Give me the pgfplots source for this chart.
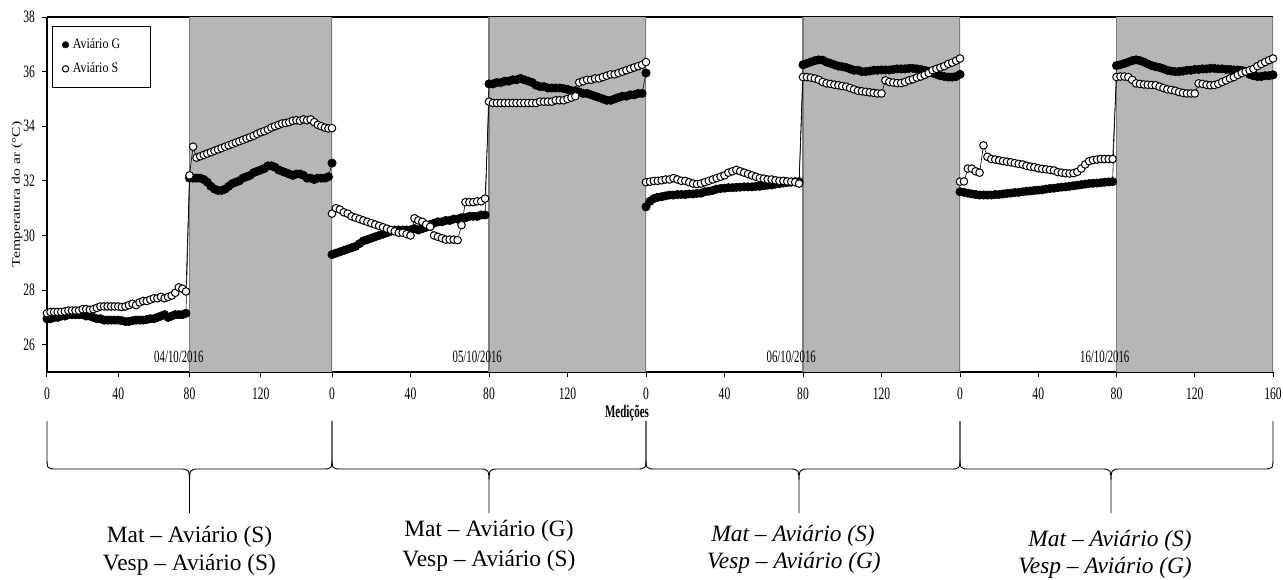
\documentclass[border=0pt]{standalone}
\usepackage{pgfplots}
\pgfplotsset{compat=1.18}
\usepackage{pgfplotstable}
\usepackage{graphicx}
\usepackage{fontspec}
\setmainfont{Liberation Serif}

\definecolor{sombra}{RGB}{180,182,183}
\definecolor{borda}{RGB}{125,125,125}

% texto esticado na vertical, como na figura original
\newcommand{\tk}[1]{\scalebox{1}[1.5]{#1}}
\newcommand{\dt}[1]{\scalebox{1}[1.6]{#1}}

% x = medição dentro do dia; g = Aviário G, s = Aviário S; 1..4 = dias
\pgfplotstableread{
x g1 s1 g2 s2 g3 s3 g4 s4
0 26.95 27.15 29.30 30.80 31.05 31.95 31.60 31.97
2 26.95 27.20 29.35 31.00 31.25 31.97 31.58 31.98
4 27.00 27.20 29.40 30.95 31.35 32.00 31.55 32.45
6 27.00 27.20 29.45 30.85 31.40 32.00 31.52 32.45
8 27.05 27.20 29.50 30.80 31.42 32.02 31.50 32.35
10 27.05 27.22 29.55 30.70 31.45 32.05 31.48 32.30
12 27.10 27.25 29.60 30.65 31.48 32.05 31.48 33.30
14 27.10 27.25 29.70 30.60 31.48 32.10 31.48 32.88
16 27.10 27.25 29.80 30.55 31.50 32.05 31.48 32.80
18 27.10 27.25 29.85 30.50 31.50 32.00 31.50 32.78
20 27.10 27.30 29.90 30.45 31.50 32.00 31.50 32.75
22 27.05 27.30 29.95 30.40 31.52 31.95 31.52 32.72
24 27.05 27.28 30.00 30.35 31.52 31.90 31.54 32.70
26 27.00 27.30 30.05 30.30 31.54 31.88 31.55 32.68
28 26.95 27.35 30.10 30.25 31.55 31.90 31.57 32.65
30 26.95 27.40 30.15 30.20 31.60 31.95 31.58 32.62
32 26.90 27.40 30.20 30.15 31.62 32.00 31.60 32.60
34 26.90 27.40 30.20 30.10 31.65 32.05 31.62 32.55
36 26.90 27.40 30.20 30.10 31.70 32.10 31.63 32.52
38 26.90 27.40 30.20 30.05 31.72 32.15 31.65 32.50
40 26.90 27.40 30.20 30.00 31.73 32.20 31.66 32.46
42 26.88 27.38 30.25 30.63 31.75 32.30 31.67 32.44
44 26.85 27.40 30.20 30.55 31.75 32.35 31.70 32.42
46 26.85 27.45 30.25 30.50 31.76 32.40 31.72 32.40
48 26.88 27.50 30.30 30.40 31.77 32.35 31.73 32.38
50 26.90 27.45 30.40 30.32 31.78 32.30 31.75 32.32
52 26.90 27.55 30.45 30.00 31.78 32.25 31.77 32.30
54 26.90 27.60 30.50 29.95 31.78 32.20 31.78 32.28
56 26.92 27.60 30.50 29.90 31.80 32.15 31.80 32.27
58 26.95 27.65 30.55 29.85 31.80 32.10 31.82 32.28
60 26.95 27.70 30.55 29.85 31.82 32.08 31.84 32.33
62 27.00 27.70 30.60 29.85 31.84 32.05 31.86 32.45
64 27.05 27.75 30.60 29.83 31.85 32.05 31.88 32.60
66 27.10 27.70 30.65 30.38 31.88 32.02 31.90 32.72
68 27.00 27.75 30.65 31.22 31.90 32.00 31.91 32.76
70 27.05 27.80 30.70 31.22 31.92 32.00 31.92 32.78
72 27.10 27.90 30.70 31.22 31.94 31.98 31.93 32.80
74 27.10 28.10 30.70 31.25 31.95 31.97 31.95 32.80
76 27.10 28.05 30.75 31.25 31.97 31.95 31.96 32.80
78 27.15 27.95 30.75 31.35 31.97 31.90 31.97 32.80
80 32.10 32.20 35.55 34.90 36.25 35.80 36.22 35.80
82 32.10 33.25 35.55 34.85 36.30 35.80 36.25 35.82
84 32.10 32.85 35.60 34.85 36.35 35.78 36.30 35.82
86 32.10 32.90 35.60 34.85 36.40 35.75 36.35 35.80
88 32.05 32.95 35.65 34.85 36.43 35.70 36.40 35.70
90 31.95 33.00 35.65 34.85 36.42 35.62 36.43 35.57
92 31.80 33.05 35.70 34.85 36.35 35.57 36.40 35.55
94 31.70 33.10 35.70 34.85 36.30 35.55 36.35 35.53
96 31.65 33.15 35.75 34.85 36.25 35.52 36.28 35.52
98 31.65 33.20 35.70 34.85 36.20 35.50 36.22 35.51
100 31.70 33.25 35.65 34.85 36.18 35.47 36.18 35.50
102 31.80 33.30 35.60 34.85 36.15 35.45 36.15 35.45
104 31.90 33.35 35.50 34.85 36.10 35.40 36.10 35.40
106 31.95 33.40 35.45 34.90 36.05 35.35 36.05 35.35
108 32.00 33.45 35.45 34.90 36.05 35.30 36.02 35.33
110 32.10 33.50 35.40 34.90 36.00 35.28 36.00 35.30
112 32.15 33.55 35.40 34.90 36.00 35.26 36.00 35.25
114 32.20 33.60 35.40 34.95 36.02 35.24 36.02 35.22
116 32.30 33.65 35.40 34.95 36.05 35.22 36.05 35.20
118 32.35 33.72 35.38 34.95 36.05 35.20 36.05 35.20
120 32.40 33.78 35.35 35.00 36.06 35.20 36.08 35.20
122 32.45 33.82 35.30 35.05 36.06 35.68 36.08 35.57
124 32.55 33.88 35.30 35.10 36.06 35.62 36.10 35.55
126 32.55 33.95 35.25 35.60 36.08 35.60 36.10 35.52
128 32.50 34.00 35.20 35.65 36.10 35.58 36.12 35.50
130 32.40 34.05 35.20 35.70 36.10 35.58 36.12 35.51
132 32.35 34.10 35.15 35.70 36.10 35.62 36.10 35.55
134 32.30 34.12 35.10 35.75 36.12 35.68 36.10 35.62
136 32.25 34.15 35.05 35.75 36.12 35.72 36.08 35.68
138 32.20 34.20 35.00 35.80 36.10 35.78 36.08 35.75
140 32.25 34.22 34.95 35.85 36.08 35.82 36.06 35.80
142 32.25 34.20 34.95 35.90 36.05 35.88 36.06 35.88
144 32.20 34.25 35.00 35.90 36.00 35.95 36.05 35.95
146 32.10 34.22 35.05 35.95 35.95 36.05 36.00 36.00
148 32.10 34.25 35.10 36.00 35.90 36.10 35.90 36.05
150 32.05 34.15 35.10 36.05 35.85 36.15 35.85 36.10
152 32.10 34.05 35.15 36.10 35.82 36.20 35.82 36.20
154 32.10 34.00 35.15 36.15 35.80 36.28 35.82 36.28
156 32.10 33.95 35.20 36.20 35.80 36.33 35.85 36.35
158 32.15 33.92 35.20 36.25 35.82 36.40 35.85 36.42
160 32.65 33.93 35.95 36.35 35.90 36.48 35.88 36.48
}\temps

\pgfplotsset{
  bloco/.style={
    scale only axis, height=177.5pt,
    xmin=0, xmax=160, ymin=25, ymax=38,
    axis x line*=box,
    xtick pos=left,
    tick align=outside,
    major tick length=2.5pt,
    xtick={0,40,80,120},
    xticklabels={\tk{0},\tk{40},\tk{80},\tk{120}},
    xticklabel style={font=\fontsize{5.8}{6}\selectfont, yshift=-2pt},
    yticklabel style={font=\fontsize{5.8}{6}\selectfont},
    clip mode=individual,
    axis line style={line width=0.8pt, black},
    tick style={line width=0.5pt, black},
  },
  diaG/.style={black, line width=0.3pt, mark=*, mark size=2.1pt,
    mark options={fill=black, draw=black, line width=0.3pt}},
  diaS/.style={black, line width=0.3pt, mark=*, mark size=1.9pt,
    mark options={fill=white, draw=black, line width=0.5pt}},
  sem y/.style={axis y line=none, ytick=\empty},
}

\newcommand{\fundo}{%
  \addplot[fill=sombra, draw=none, forget plot] coordinates {(80,25) (80,38) (160,38) (160,25)} -- cycle;
  \addplot[borda, line width=0.6pt, forget plot] coordinates {(80,25) (80,38)};
  \addplot[borda, line width=0.6pt, forget plot] coordinates {(160,25) (160,38)};
}

\newcommand{\chave}[3]{%
  \draw[line width=0.45pt] (#1,-24.5) -- (#1,-42) .. controls (#1,-48.5) .. ({#1+5},-48.5)
    -- ({#2-5},-48.5) .. controls (#2,-48.5) .. (#2,-57) -- (#2,-70.5)
    (#2,-57) .. controls (#2,-48.5) .. ({#2+5},-48.5)
    -- ({#3-5},-48.5) .. controls (#3,-48.5) .. (#3,-42) -- (#3,-24.5);
}

\begin{document}
\begin{tikzpicture}
\path[use as bounding box] (-23.5pt,-103.5pt) rectangle (618pt,186pt);

\begin{axis}[bloco, at={(0pt,0pt)}, width=142.5pt,
    axis y line*=left, ytick pos=left,
    ytick={26,28,30,32,34,36,38},
    yticklabels={\tk{26},\tk{28},\tk{30},\tk{32},\tk{34},\tk{36},\tk{38}},
    ylabel={\scalebox{1.35}[1]{Temperatura do ar (°C)}},
    every axis y label/.style={at={(axis description cs:-0.105,0.5)}, rotate=90, anchor=center,
      font=\fontsize{5.8}{6}\selectfont},
    legend style={at={(0.0175,0.975)}, anchor=north west, draw=black, line width=0.4pt,
      inner xsep=5pt, inner ysep=4pt, font=\fontsize{6}{6.5}\selectfont,
      row sep=1.5pt, nodes={inner sep=2pt}},
    legend cell align=left,
    legend image code/.code={\draw[#1, mark size=1.6pt] plot coordinates {(0cm,0cm)};},
  ]
\fundo
\addplot[diaG] table[x=x, y=g1] {\temps};
\addlegendentry{\scalebox{1}[1.2]{Aviário G}\hspace*{8pt}}
\addplot[diaS] table[x=x, y=s1] {\temps};
\addlegendentry{\scalebox{1}[1.2]{Aviário S}\hspace*{8pt}}
\node[anchor=south, font=\fontsize{5.4}{6}\selectfont] at (axis cs:74,25.1) {\dt{04/10/2016}};
\end{axis}

\begin{axis}[bloco, sem y, at={(142.5pt,0pt)}, width=157pt]
\fundo
\addplot[diaG] table[x=x, y=g2] {\temps};
\addplot[diaS] table[x=x, y=s2] {\temps};
\node[anchor=south, font=\fontsize{5.4}{6}\selectfont] at (axis cs:74,25.1) {\dt{05/10/2016}};
\end{axis}

\begin{axis}[bloco, sem y, at={(299.5pt,0pt)}, width=157pt]
\fundo
\addplot[diaG] table[x=x, y=g3] {\temps};
\addplot[diaS] table[x=x, y=s3] {\temps};
\node[anchor=south, font=\fontsize{5.4}{6}\selectfont] at (axis cs:74,25.1) {\dt{06/10/2016}};
\end{axis}

\begin{axis}[bloco, sem y, at={(456.5pt,0pt)}, width=156.5pt,
    xtick={0,40,80,120,160},
    xticklabels={\tk{0},\tk{40},\tk{80},\tk{120},\tk{160}}]
\fundo
\addplot[diaG] table[x=x, y=g4] {\temps};
\addplot[diaS] table[x=x, y=s4] {\temps};
\node[anchor=south, font=\fontsize{5.4}{6}\selectfont] at (axis cs:74,25.1) {\dt{16/10/2016}};
\end{axis}

\begin{scope}[x=1pt, y=1pt]
\node[font=\bfseries\fontsize{5.5}{6}\selectfont] at (290,-20.5) {\dt{Medições}};
\chave{0}{71.25}{142.5}
\chave{142.5}{221}{299.5}
\chave{299.5}{376}{456.5}
\chave{456.5}{532}{613}
\begin{scope}[font=\fontsize{11.7}{14}\selectfont]
\node[anchor=base] at (71.25,-85.3) {Mat – Aviário (S)};
\node[anchor=base] at (71.25,-99.3) {Vesp – Aviário (S)};
\node[anchor=base] at (221,-82.4) {Mat – Aviário (G)};
\node[anchor=base] at (221,-97.4) {Vesp – Aviário (S)};
\node[anchor=base] at (373,-84.8) {\itshape Mat – Aviário (S)};
\node[anchor=base] at (373.5,-98) {\itshape Vesp – Aviário (G)};
\node[anchor=base] at (531.5,-87.3) {\itshape Mat – Aviário (S)};
\node[anchor=base] at (529,-100.5) {\itshape Vesp – Aviário (G)};
\end{scope}
\end{scope}
\end{tikzpicture}
\end{document}
